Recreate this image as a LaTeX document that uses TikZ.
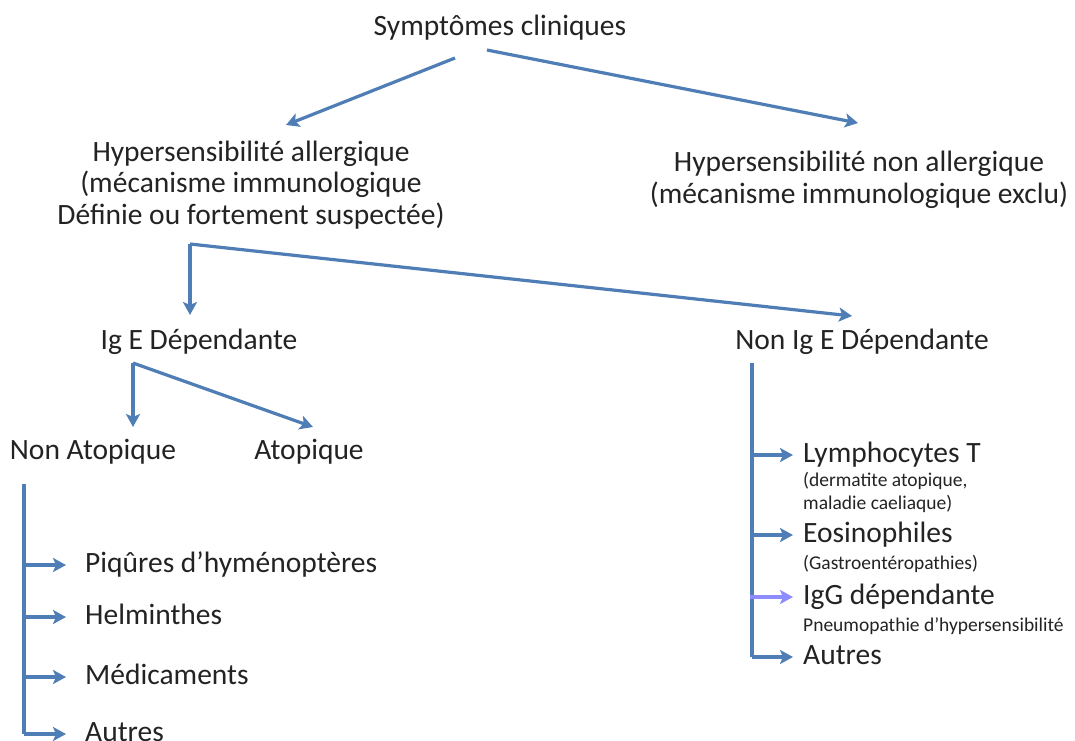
\documentclass[tikz,border=0pt]{standalone}
\usepackage{fontspec}
\setmainfont{Carlito}
\usepackage{tikz}
\usetikzlibrary{arrows.meta, positioning, calc}
\definecolor{flowblue}{RGB}{79,125,181}
\definecolor{igglilac}{RGB}{140,140,255}
\definecolor{inkgray}{RGB}{35,35,35}

\begin{document}
\begin{tikzpicture}[x=1pt,y=-1pt,
    txt/.style={text=inkgray, inner sep=0pt},
    lbl/.style={txt, font=\fontsize{29.5}{31.5}\selectfont, align=center},
    one/.style={text height=21pt, text depth=7pt},
    item/.style={lbl, one, anchor=west},
    note/.style={txt, font=\fontsize{19.5}{23}\selectfont, anchor=west, align=left},
    conn/.style={draw=flowblue, line width=3.2pt, -{Stealth[length=13pt,width=14pt,inset=3pt]}},
    rail/.style={draw=flowblue, line width=3.2pt}]
    \useasboundingbox (0,0) rectangle (1075,740);
    \fill[white] (0,0) rectangle (1075,740);

    % Niveau 1
    \node[lbl, one] (sympt) at (500,28) {Symptômes cliniques};
    \node[lbl] (allerg) at (251,185) {Hypersensibilité allergique\\(mécanisme immunologique\\Définie ou fortement suspectée)};
    \node[lbl] (nonallerg) at (859,180) {Hypersensibilité non allergique\\(mécanisme immunologique exclu)};
    \coordinate (s1) at (455,58);
    \coordinate (s2) at (487,50);
    \draw[conn] (s1) -- (286,125);
    \draw[conn] (s2) -- (858,123);

    % Niveau 2
    \node[lbl, one] (ige) at (199,342) {Ig E Dépendante};
    \node[lbl, one] (nonige) at (862,342) {Non Ig E Dépendante};
    \coordinate (abr) at (190,244);
    \draw[conn] (abr) -- (abr |- 0,315);
    \draw[conn] (abr) -- (852,316);

    % Ig E
    \node[lbl, one] (natop) at (93,452) {Non Atopique};
    \node[lbl, one] (atop) at (309,452) {Atopique};
    \coordinate (ibr) at (133,363);
    \draw[conn] (ibr) -- (ibr |- 0,427);
    \draw[conn] (ibr) -- (313,427);

    % Non atopique
    \node[item] (piq) at (85,565) {Piqûres d’hyménoptères};
    \node[item] (helm) at (85,617) {Helminthes};
    \node[item] (medic) at (85,677) {Médicaments};
    \node[item] (autresL) at (85,734) {Autres};
    \coordinate (ltop) at (24,484);
    \draw[rail] (ltop) -- (ltop |- autresL.west);
    \foreach \n in {piq, helm, medic, autresL}
        \draw[conn, shorten >=19pt] (ltop |- \n.west) -- (\n.west);

    % Non Ig E
    \node[item] (lympho) at (803,455) {Lymphocytes T};
    \node[note] (lymphonote) at (803,492) {(dermatite atopique,\\maladie caeliaque)};
    \node[item] (eosino) at (803,535) {Eosinophiles};
    \node[note] (eosinonote) at (803,564) {(Gastroentéropathies)};
    \node[item] (iggdep) at (803,597) {IgG dépendante};
    \node[note] (iggnote) at (803,626) {Pneumopathie d’hypersensibilité};
    \node[item] (autresR) at (803,657) {Autres};
    \coordinate (rtop) at (752,363);
    \draw[rail] (rtop) -- (rtop |- autresR.west);
    \foreach \n in {lympho, eosino, autresR}
        \draw[conn, shorten >=10pt] (rtop |- \n.west) -- (\n.west);
    \draw[conn, draw=igglilac, fill=igglilac, shorten >=10pt] ([xshift=-2pt]rtop |- iggdep.west) -- (iggdep.west);
\end{tikzpicture}
\end{document}
